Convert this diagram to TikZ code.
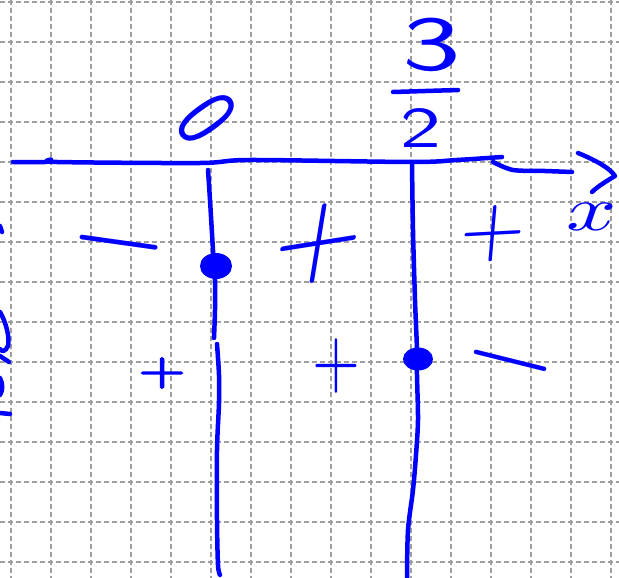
\documentclass[tikz,border=0pt]{standalone}
\usepackage{unicode-math}
\setmathfont{Latin Modern Math}
\newfontfamily\signbold{Latin Modern Math}[FakeBold=3.5]
\definecolor{inkblue}{RGB}{0,0,255}
\tikzset{
  gridline/.style={draw=black!38, line width=1.3pt, dash pattern=on 5pt off 3pt},
  ink/.style={draw=inkblue, line width=4.5pt, line cap=round, line join=round},
  inkdot/.style={fill=inkblue, draw=none},
  inktext/.style={text=inkblue, inner sep=0pt, outer sep=0pt},
}
\newcommand{\fsz}[1]{\fontsize{#1}{#1}\selectfont}
\newcommand{\mminus}{$\vphantom{+}-$}
\begin{document}
\begin{tikzpicture}[x=1pt,y=-1pt]
\useasboundingbox[fill=white] (0,0) rectangle (619,578);
% grid
\foreach \gx in {11,51,...,611} \draw[gridline] (\gx,0) -- (\gx,578);
\foreach \gy in {2,42,...,562} \draw[gridline] (0,\gy) -- (619,\gy);

% axis
\coordinate (axA) at (13,162);
\coordinate (axB) at (502,157);
\coordinate (axC) at (493,162);
\coordinate (axD) at (572,172);
\draw[ink] plot[smooth] coordinates {(axA) (45,162) (51,159.5) (57,162) (200,163) (250,160) (412,162) (457,160) (axB)};
\draw[ink] plot[smooth] coordinates {(axC) (513,170) (545,171) (axD)};
% arrow chevron
\coordinate (arT) at (578,153);
\coordinate (arM) at (615,176);
\coordinate (arB) at (592,192);
\draw[ink] (arT) .. controls (595,160) and (610,168) .. (arM) .. controls (605,182) and (597,187) .. (arB);

% vertical line at 0
\coordinate (v1a) at (208,170);
\coordinate (v1b) at (214,338);
\coordinate (v1c) at (217,344);
\coordinate (v1d) at (220,575);
\draw[ink] plot[smooth] coordinates {(v1a) (210,200) (213,250) (215,280) (215,310) (v1b)};
\draw[ink] plot[smooth] coordinates {(v1c) (219,375) (219,403) (217,450) (217,520) (218,565) (v1d)};
% vertical line at 3/2
\coordinate (v2a) at (412,163);
\coordinate (v2b) at (407,578);
\draw[ink] plot[smooth] coordinates {(v2a) (413,230) (415,300) (417,350) (417,375) (418,420) (416,455) (413,490) (408,530) (v2b)};

% dots
\fill[inkdot] (216,266) ellipse [x radius=16, y radius=13];
\fill[inkdot] (418,359) ellipse [x radius=15, y radius=11.5];

% labels
\node[inktext, font=\sffamily\fsz{92}, rotate=-54, xscale=0.78] (zero) at (207,118) {0};
\node[inktext, font=\sffamily\fsz{78}, xscale=1.6] (three) at (432,45) {3};
\node[inktext, font=\sffamily\fsz{58}, xscale=1.5] (two) at (421,128) {2};
\coordinate (fbL) at (393,92);
\coordinate (fbR) at (458,90);
\draw[ink] (fbL) -- (fbR);
\node[inktext, font=\fsz{63}, xscale=1.4] (xlab) at (592,217) {$x$};

% signs, upper row
\node[inktext, font=\fsz{118}, rotate=-8] (m1) at (119,243) {\mminus};
\node[inktext, font=\fsz{115}, rotate=9, xslant=0.33] (p1) at (319,244) {$+$};
\node[inktext, font=\fsz{84}, rotate=3, xslant=0.14] (p2) at (493,234) {$+$};
% signs, lower row
\node[inktext, font=\signbold\fsz{60}, yscale=0.75] (p3) at (162,373) {+};
\node[inktext, font=\fsz{82}, xscale=0.75] (p4) at (336,366) {$+$};
\node[inktext, font=\fsz{112}, rotate=-14] (m2) at (511,361) {\mminus};

% partial marks at left edge
\draw[ink] (0,226) -- (2,232);
\draw[ink] (0,312) .. controls (6,322) and (10,338) .. (8,346) .. controls (5,352) and (2,352) .. (0,349);
\draw[ink] (0,356) -- (9,362);
\draw[ink] (0,378) .. controls (3,384) and (3,390) .. (0,395);
\draw[ink] (0,413) -- (10,414);
\end{tikzpicture}
\end{document}
